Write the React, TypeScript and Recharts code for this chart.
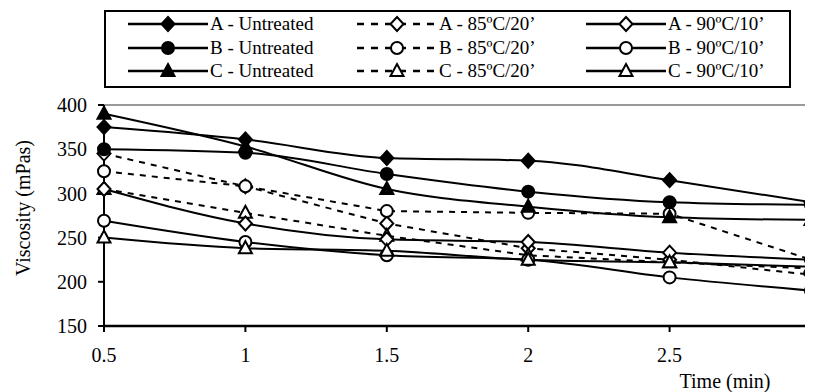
import { Label, Line, LineChart, ReferenceLine, XAxis, YAxis } from "recharts";

const times = [0.5, 1, 1.5, 2, 2.5, 3];
const aUntreated = [375, 361, 340, 337, 315, 290];
const bUntreated = [350, 346, 322, 302, 290, 287];
const cUntreated = [390, 353, 305, 285, 273, 270];
const a85 = [345, 308, 266, 238, 225, 208];
const b85 = [325, 308, 280, 278, 277, 225];
const c85 = [305, 278, 252, 230, 222, 215];
const a90 = [305, 266, 248, 245, 233, 225];
const b90 = [269, 245, 230, 225, 205, 190];
const c90 = [250, 238, 235, 225, 222, 217];
const yTicks = [150, 200, 250, 300, 350, 400];

const font = "'Times New Roman', 'Liberation Serif', serif";

type Shape = "diamond" | "circle" | "triangle";
type Series = { key: string; name: string; values: number[]; shape: Shape; filled: boolean; dashed: boolean };

// legend order is column by column
const series: Series[] = [
  { key: "aU", name: "A - Untreated", values: aUntreated, shape: "diamond", filled: true, dashed: false },
  { key: "bU", name: "B - Untreated", values: bUntreated, shape: "circle", filled: true, dashed: false },
  { key: "cU", name: "C - Untreated", values: cUntreated, shape: "triangle", filled: true, dashed: false },
  { key: "a85", name: "A - 85ºC/20’", values: a85, shape: "diamond", filled: false, dashed: true },
  { key: "b85", name: "B - 85ºC/20’", values: b85, shape: "circle", filled: false, dashed: true },
  { key: "c85", name: "C - 85ºC/20’", values: c85, shape: "triangle", filled: false, dashed: true },
  { key: "a90", name: "A - 90ºC/10’", values: a90, shape: "diamond", filled: false, dashed: false },
  { key: "b90", name: "B - 90ºC/10’", values: b90, shape: "circle", filled: false, dashed: false },
  { key: "c90", name: "C - 90ºC/10’", values: c90, shape: "triangle", filled: false, dashed: false },
];

// open-marker series first so the filled ones sit on top
const drawOrder = [...series.slice(3), ...series.slice(0, 3)];

const data = times.map((t, i) => {
  const row: Record<string, number> = { t };
  series.forEach((s) => (row[s.key] = s.values[i]));
  return row;
});

function Marker({ cx, cy, shape, filled }: { cx: number; cy: number; shape: Shape; filled: boolean }) {
  const fill = filled ? "#000" : "#fff";
  if (shape === "circle") return <circle cx={cx} cy={cy} r={6} fill={fill} stroke="#000" strokeWidth={2} />;
  if (shape === "diamond")
    return <polygon points={`${cx},${cy - 7} ${cx + 6.5},${cy} ${cx},${cy + 7} ${cx - 6.5},${cy}`} fill={fill} stroke="#000" strokeWidth={2} />;
  return <polygon points={`${cx},${cy - 7} ${cx + 6.5},${cy + 5} ${cx - 6.5},${cy + 5}`} fill={fill} stroke="#000" strokeWidth={2} />;
}

function dotFor(s: Series) {
  return (props: any) => {
    const { cx, cy, index } = props;
    const key = `${s.key}-${index}`;
    if (cx == null || cy == null) return <g key={key} />;
    return (
      <g key={key}>
        <Marker cx={cx} cy={cy} shape={s.shape} filled={s.filled} />
      </g>
    );
  };
}

function ChartLegend() {
  return (
    <div
      style={{
        position: "absolute", left: 96, top: 2, width: 683, height: 74,
        border: "2px solid #000", background: "#fff", fontFamily: font, fontSize: 19,
      }}
    >
      {series.map((s, i) => {
        const col = Math.floor(i / 3);
        const row = i % 3;
        return (
          <div
            key={s.key}
            style={{
              position: "absolute", left: 22 + col * 229, top: 1 + row * 23.5, height: 22,
              display: "flex", alignItems: "center", whiteSpace: "nowrap",
            }}
          >
            <svg width={82} height={20}>
              <line x1={0} x2={80} y1={10} y2={10} stroke="#000" strokeWidth={2.5} strokeDasharray={s.dashed ? "7 7" : undefined} />
              <Marker cx={40} cy={10} shape={s.shape} filled={s.filled} />
            </svg>
            <span>{s.name}</span>
          </div>
        );
      })}
    </div>
  );
}

export default function App() {
  return (
    <div style={{ position: "relative", width: 805, height: 384, overflow: "hidden", background: "#fff" }}>
      <LineChart width={830} height={384} data={data} margin={{ top: 97, right: 27, bottom: 26, left: 0 }}>
        <ReferenceLine y={400} stroke="#999" strokeWidth={2} />
        <XAxis
          dataKey="t" type="number" domain={[0.5, 3]} ticks={times} height={40}
          axisLine={{ stroke: "#000", strokeWidth: 2.5 }} tickLine={{ stroke: "#000", strokeWidth: 2 }}
          tickSize={6} tickMargin={16} interval={0}
          tick={{ fill: "#000", fontSize: 20, fontFamily: font }}
        >
          <Label
            content={() => (
              <text x={717} y={380} textAnchor="middle" fontSize={20} fontFamily={font} fill="#000">Time (min)</text>
            )}
          />
        </XAxis>
        <YAxis
          type="number" domain={[150, 400]} ticks={yTicks} width={96} interval={0}
          axisLine={{ stroke: "#000", strokeWidth: 2 }} tickLine={{ stroke: "#000", strokeWidth: 2 }}
          tickSize={6} tickMargin={11}
          tick={{ fill: "#000", fontSize: 20, fontFamily: font }}
        >
          <Label
            content={() => (
              <text x={22} y={200} transform="rotate(-90 22 200)" textAnchor="middle" fontSize={20} fontFamily={font} fill="#000">
                Viscosity (mPas)
              </text>
            )}
          />
        </YAxis>
        {drawOrder.map((s) => (
          <Line
            key={s.key}
            dataKey={s.key}
            name={s.name}
            type={s.dashed ? "linear" : "monotone"}
            stroke="#000"
            strokeWidth={2}
            strokeDasharray={s.dashed ? "6 6" : undefined}
            dot={dotFor(s)}
            activeDot={false}
            isAnimationActive={false}
          />
        ))}
      </LineChart>
      <ChartLegend />
    </div>
  );
}
